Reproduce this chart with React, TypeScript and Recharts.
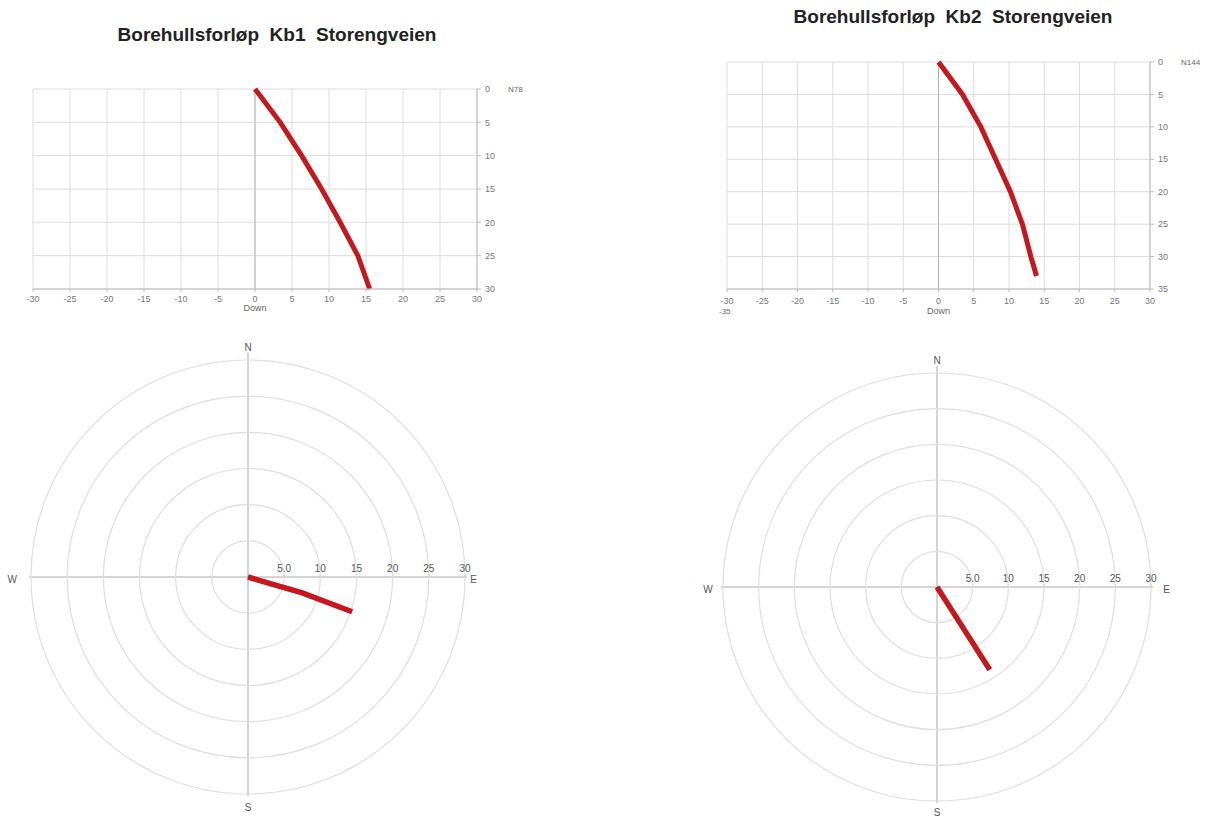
import React from 'react';
import {
  LineChart, Line, XAxis, YAxis, CartesianGrid, ReferenceLine,
  ScatterChart, Scatter, ReferenceDot,
} from 'recharts';

// ---- data ----
const xTicks = [-30, -25, -20, -15, -10, -5, 0, 5, 10, 15, 20, 25, 30];
const kb1DepthTicks = [0, 5, 10, 15, 20, 25, 30];
const kb2DepthTicks = [0, 5, 10, 15, 20, 25, 30, 35];

const kb1Depth = [0, 5, 10, 15, 20, 25, 30];
const kb1Offset = [0, 3.4, 6.3, 9.0, 11.5, 13.9, 15.5];
const kb2Depth = [0, 5, 10, 15, 20, 25, 30, 33];
const kb2Offset = [0, 3.4, 6.0, 8.1, 10.2, 11.9, 13.1, 13.9];

const kb1East = [0, 7.5, 14.4];
const kb1North = [0, -2.2, -4.8];
const kb2East = [0, 3.7, 7.4];
const kb2North = [0, -5.8, -11.6];

const ringValues = [5, 10, 15, 20, 25, 30];
const ringLabels = ['5.0', '10', '15', '20', '25', '30'];

const RED = '#c8171c';
const FONT = '"Liberation Sans", Arial, sans-serif';
const tickStyle = { fontSize: 9, fill: '#777', fontFamily: FONT };

const kb1Side = kb1Depth.map((d, i) => ({ depth: d, offset: kb1Offset[i] }));
const kb2Side = kb2Depth.map((d, i) => ({ depth: d, offset: kb2Offset[i] }));
const kb1Plan = kb1East.map((e, i) => ({ x: e, y: kb1North[i] }));
const kb2Plan = kb2East.map((e, i) => ({ x: e, y: kb2North[i] }));

type SideProps = {
  left: number; top: number; width: number; height: number;
  margin: { top: number; right: number; bottom: number; left: number };
  data: { depth: number; offset: number }[];
  depthMax: number; depthTicks: number[];
  tickGap: number; downOffset: number;
};

function SideView(p: SideProps) {
  return (
    <div style={{ position: 'absolute', left: p.left, top: p.top }}>
      <LineChart
        width={p.width}
        height={p.height}
        data={p.data}
        layout="vertical"
        margin={p.margin}
      >
        <CartesianGrid stroke="#dcdcdc" strokeWidth={1} />
        <XAxis
          type="number"
          dataKey="offset"
          domain={[-30, 30]}
          ticks={xTicks}
          interval={0}
          tick={tickStyle}
          tickSize={3}
          tickMargin={p.tickGap}
          height={20}
          axisLine={{ stroke: '#bbb' }}
          tickLine={{ stroke: '#bbb' }}
          label={{ value: 'Down', position: 'insideBottom', offset: p.downOffset, style: { fontSize: 9, fill: '#666', fontFamily: FONT } }}
        />
        <YAxis
          type="number"
          dataKey="depth"
          orientation="right"
          domain={[0, p.depthMax]}
          ticks={p.depthTicks}
          interval={0}
          tick={{ ...tickStyle, textAnchor: 'start' }}
          tickSize={4}
          tickMargin={4}
          width={30}
          axisLine={{ stroke: '#bbb' }}
          tickLine={{ stroke: '#bbb' }}
        />
        <ReferenceLine x={0} stroke="#b5b5b5" strokeWidth={1} />
        <Line
          type="linear"
          dataKey="offset"
          stroke={RED}
          strokeWidth={5}
          dot={false}
          isAnimationActive={false}
        />
      </LineChart>
    </div>
  );
}

type PlanProps = {
  cx: number; cy: number; R: number;
  data: { x: number; y: number }[];
  nY: number; sY: number; eX: number; wX: number;
};

function PlanView(p: PlanProps) {
  const m = 32;
  const size = 2 * p.R + 2 * m;
  const ppu = p.R / 30;
  const lbl = { fontSize: 10, fill: '#555', fontFamily: FONT };
  return (
    <div style={{ position: 'absolute', left: p.cx - p.R - m, top: p.cy - p.R - m }}>
      <ScatterChart width={size} height={size} margin={{ top: m, right: m, bottom: m, left: m }}>
        <XAxis type="number" dataKey="x" domain={[-30, 30]} hide allowDataOverflow />
        <YAxis type="number" dataKey="y" domain={[-30, 30]} hide allowDataOverflow />
        {ringValues.map((v) => (
          <ReferenceDot
            key={'r' + v}
            x={0}
            y={0}
            r={v * ppu}
            fill="none"
            stroke="#dedede"
            strokeWidth={1.2}
            ifOverflow="visible"
          />
        ))}
        <ReferenceLine
          segment={[{ x: -30.3, y: 0 }, { x: 30.3, y: 0 }]}
          stroke="#aaa"
          ifOverflow="visible"
        />
        <ReferenceLine
          segment={[{ x: 0, y: 31 }, { x: 0, y: -30.3 }]}
          stroke="#aaa"
          ifOverflow="visible"
        />
        {ringValues.map((v) => (
          <ReferenceLine
            key={'t' + v}
            segment={[{ x: v, y: 0 }, { x: v, y: 0.35 }]}
            stroke="#999"
            ifOverflow="visible"
          />
        ))}
        {ringValues.map((v, i) => (
          <ReferenceDot
            key={'l' + v}
            x={v}
            y={0}
            r={1}
            fill="none"
            stroke="none"
            ifOverflow="visible"
            label={{ value: ringLabels[i], position: 'top', offset: 4, style: lbl }}
          />
        ))}
        <ReferenceDot x={0} y={p.nY} r={1} fill="none" stroke="none" ifOverflow="visible"
          label={{ value: 'N', position: 'center', style: lbl }} />
        <ReferenceDot x={0} y={p.sY} r={1} fill="none" stroke="none" ifOverflow="visible"
          label={{ value: 'S', position: 'center', style: lbl }} />
        <ReferenceDot x={p.eX} y={-0.3} r={1} fill="none" stroke="none" ifOverflow="visible"
          label={{ value: 'E', position: 'center', style: lbl }} />
        <ReferenceDot x={p.wX} y={-0.3} r={1} fill="none" stroke="none" ifOverflow="visible"
          label={{ value: 'W', position: 'center', style: lbl }} />
        <Scatter
          data={p.data}
          line={{ stroke: RED, strokeWidth: 5.5 }}
          lineType="joint"
          shape={() => <g />}
          isAnimationActive={false}
        />
      </ScatterChart>
    </div>
  );
}

const titleStyle: React.CSSProperties = {
  position: 'absolute',
  fontFamily: FONT,
  fontWeight: 'bold',
  fontSize: 19,
  color: '#222',
  whiteSpace: 'pre',
  transform: 'translate(-50%, -50%)',
};

const smallStyle: React.CSSProperties = {
  position: 'absolute',
  fontFamily: FONT,
  fontSize: 8,
  color: '#666',
  whiteSpace: 'pre',
  transform: 'translate(0, -50%)',
};

export default function App() {
  return (
    <div
      style={{
        position: 'absolute', left: 0, top: 0, width: 1223, height: 818,
        overflow: 'hidden', background: '#fff',
      }}
    >
      <div style={{ ...titleStyle, left: 277, top: 35 }}>Borehullsforløp  Kb1  Storengveien</div>
      <div style={{ ...titleStyle, left: 953, top: 17 }}>Borehullsforløp  Kb2  Storengveien</div>
      <div style={{ ...smallStyle, left: 508, top: 89 }}>N78</div>
      <div style={{ ...smallStyle, left: 1181, top: 62 }}>N144</div>
      <div style={{ ...smallStyle, left: 719, top: 311, fontSize: 8 }}>-35</div>

      <SideView
        left={0} top={0} width={520} height={320}
        margin={{ top: 89, left: 33, right: 13, bottom: 11 }}
        data={kb1Side} depthMax={30} depthTicks={kb1DepthTicks}
        tickGap={4} downOffset={-2}
      />
      <SideView
        left={680} top={0} width={543} height={320}
        margin={{ top: 62, left: 47, right: 43, bottom: 11 }}
        data={kb2Side} depthMax={35} depthTicks={kb2DepthTicks}
        tickGap={6} downOffset={-5}
      />

      <PlanView cx={248} cy={577} R={217} data={kb1Plan} nY={31.8} sY={-31.8} eX={31.2} wX={-32.6} />
      <PlanView cx={937} cy={587} R={214} data={kb2Plan} nY={31.8} sY={-31.6} eX={32.2} wX={-32.1} />
    </div>
  );
}
